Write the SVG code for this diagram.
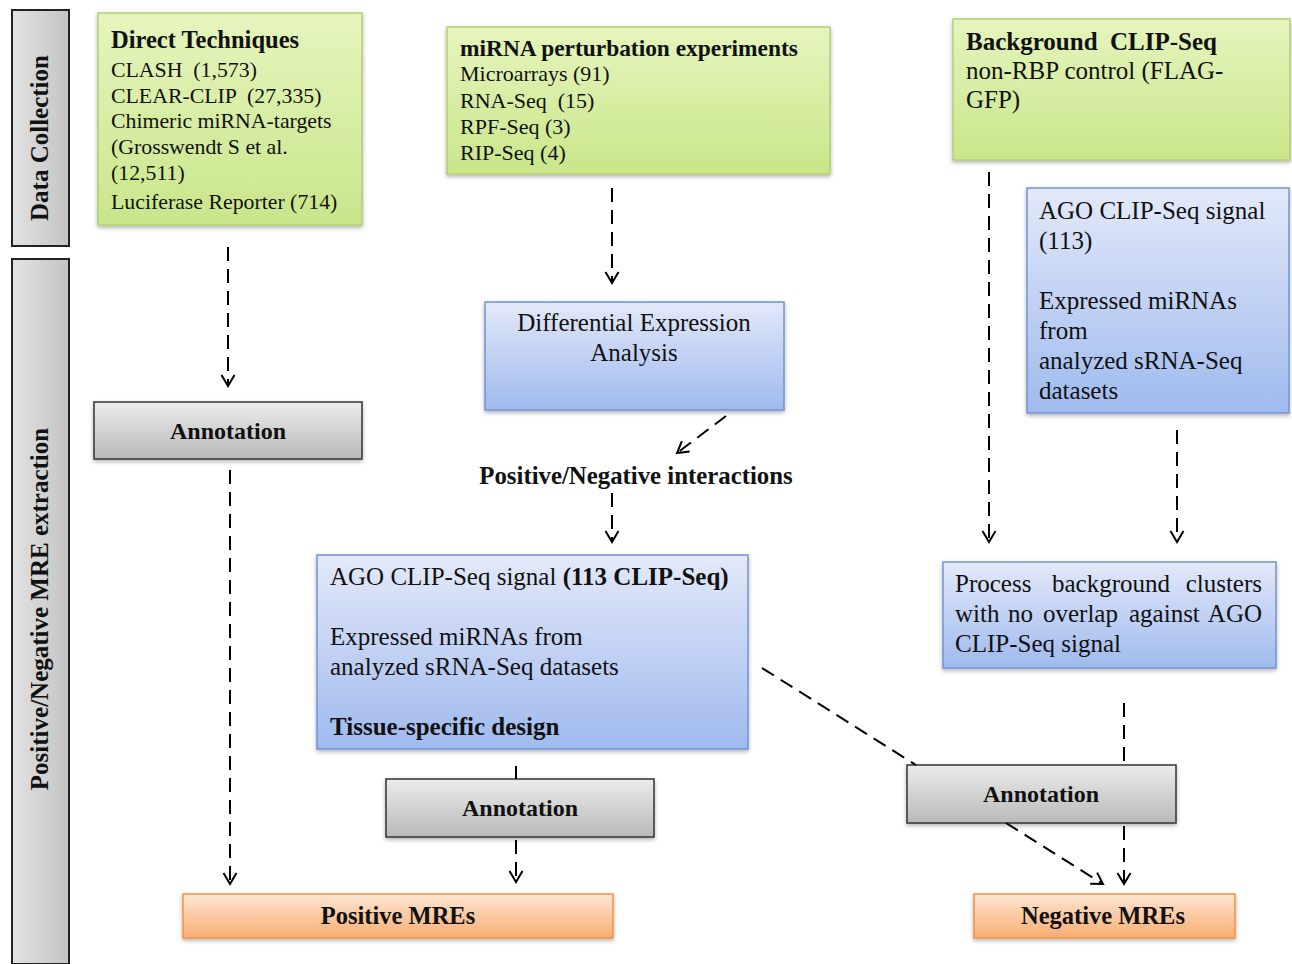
<svg xmlns="http://www.w3.org/2000/svg" width="1292" height="964" viewBox="0 0 1292 964">
<defs>
<linearGradient id="gGreen" x1="0" y1="0" x2="0" y2="1"><stop offset="0" stop-color="#e6f5be"/><stop offset="1" stop-color="#c9e68a"/></linearGradient>
<linearGradient id="gBlue" x1="0" y1="0" x2="0" y2="1"><stop offset="0" stop-color="#e3e9f9"/><stop offset="1" stop-color="#9fbaee"/></linearGradient>
<linearGradient id="gGrey" x1="0" y1="0" x2="0" y2="1"><stop offset="0" stop-color="#ececec"/><stop offset="1" stop-color="#b9b9b9"/></linearGradient>
<linearGradient id="gOrange" x1="0" y1="0" x2="0" y2="1"><stop offset="0" stop-color="#fde6d4"/><stop offset="1" stop-color="#f9ad72"/></linearGradient>
<linearGradient id="gSide" x1="0" y1="0" x2="1" y2="0"><stop offset="0" stop-color="#e2e2e2"/><stop offset="1" stop-color="#c4c4c4"/></linearGradient>
<filter id="sh" x="-5%" y="-5%" width="110%" height="120%"><feDropShadow dx="0" dy="2" stdDeviation="2" flood-color="#000" flood-opacity="0.3"/></filter>
<marker id="ah" markerWidth="16" markerHeight="16" refX="13" refY="8" orient="auto" markerUnits="userSpaceOnUse"><path d="M2,1.5 L13,8 L2,14.5" fill="none" stroke="#000" stroke-width="2"/></marker>
<style>
text{font-family:"Liberation Serif","Times New Roman",serif;fill:#111}
.b{font-weight:bold}
.t21{font-size:21.8px}
.t22{font-size:22px}
.t25{font-size:25px}
.ti{font-size:24.5px;font-weight:bold}
.an{font-size:24px;font-weight:bold}
.mre{font-size:24.5px;font-weight:bold}
.green{fill:url(#gGreen);stroke:#b2cf74;stroke-width:1.5;filter:url(#sh)}
.blue{fill:url(#gBlue);stroke:#7393d4;stroke-width:1.5;filter:url(#sh)}
.grey{fill:url(#gGrey);stroke:#333;stroke-width:1.5;filter:url(#sh)}
.orange{fill:url(#gOrange);stroke:#f39244;stroke-width:1.5;filter:url(#sh)}
.side{fill:url(#gSide);stroke:#222;stroke-width:2}
.c{fill:none;stroke:#000;stroke-width:2;stroke-dasharray:14,8}
.ca{fill:none;stroke:#000;stroke-width:2;stroke-dasharray:14,8;marker-end:url(#ah)}
.s{fill:none;stroke:#000;stroke-width:2}
</style>
</defs>
<rect width="1292" height="964" fill="#fff"/>

<g id="side-data">
<rect class="side" x="12" y="10" width="57" height="236"/>
<text class="ti" style="font-size:25px" transform="translate(48,138) rotate(-90)" text-anchor="middle">Data Collection</text>
</g>
<g id="side-extraction">
<rect class="side" x="12" y="259" width="57" height="705"/>
<text class="ti" style="font-size:25px" transform="translate(48,609) rotate(-90)" text-anchor="middle">Positive/Negative MRE extraction</text>
</g>

<g id="direct">
<rect class="green" x="98" y="13" width="264" height="212"/>
<text class="ti" x="111" y="48">Direct Techniques</text>
<text class="t21" x="111" y="77" xml:space="preserve">CLASH  (1,573)</text>
<text class="t21" x="111" y="103" xml:space="preserve">CLEAR-CLIP  (27,335)</text>
<text class="t21" x="111" y="128">Chimeric miRNA-targets</text>
<text class="t21" x="111" y="154">(Grosswendt S et al.</text>
<text class="t21" x="111" y="180">(12,511)</text>
<text class="t21" x="111" y="209">Luciferase Reporter (714)</text>
</g>

<g id="perturbation">
<rect class="green" x="447" y="27" width="383" height="147"/>
<text class="b" style="font-size:23.4px" x="460" y="56">miRNA perturbation experiments</text>
<text class="t22" x="460" y="81">Microarrays (91)</text>
<text class="t22" x="460" y="108" xml:space="preserve">RNA-Seq  (15)</text>
<text class="t22" x="460" y="134">RPF-Seq (3)</text>
<text class="t22" x="460" y="160">RIP-Seq (4)</text>
</g>

<g id="background">
<rect class="green" x="953" y="19" width="337" height="141"/>
<text class="b t25" x="966" y="50" xml:space="preserve">Background  CLIP-Seq</text>
<text class="t25" x="966" y="79">non-RBP control (FLAG-</text>
<text class="t25" x="966" y="108">GFP)</text>
</g>

<g id="ago-right">
<rect class="blue" x="1027" y="188" width="262" height="225"/>
<text class="t25" x="1039" y="219">AGO CLIP-Seq signal</text>
<text class="t25" x="1039" y="249">(113)</text>
<text class="t25" x="1039" y="309">Expressed miRNAs</text>
<text class="t25" x="1039" y="339">from</text>
<text class="t25" x="1039" y="369">analyzed sRNA-Seq</text>
<text class="t25" x="1039" y="399">datasets</text>
</g>

<g id="diffexp">
<rect class="blue" x="485" y="302" width="299" height="108"/>
<text class="t25" x="634" y="331" text-anchor="middle">Differential Expression</text>
<text class="t25" x="634" y="361" text-anchor="middle">Analysis</text>
</g>

<g id="posneg">
<text class="ti" style="font-size:24.8px" x="636" y="484" text-anchor="middle">Positive/Negative interactions</text>
</g>

<g id="ago-mid">
<rect class="blue" x="317" y="555" width="431" height="194"/>
<text class="t25" x="330" y="585">AGO CLIP-Seq signal <tspan class="b">(113 CLIP-Seq)</tspan></text>
<text class="t25" x="330" y="645">Expressed miRNAs from</text>
<text class="t25" x="330" y="675">analyzed sRNA-Seq datasets</text>
<text class="b t25" x="330" y="735">Tissue-specific design</text>
</g>

<g id="process">
<rect class="blue" x="943" y="562" width="333" height="106"/>
<text class="t25" y="592"><tspan x="955">Process</tspan> <tspan x="1052">background</tspan> <tspan x="1262" text-anchor="end">clusters</tspan></text>
<text class="t25" y="622"><tspan x="955">with</tspan> <tspan x="1008">no</tspan> <tspan x="1043">overlap</tspan> <tspan x="1129">against</tspan> <tspan x="1262" text-anchor="end">AGO</tspan></text>
<text class="t25" x="955" y="652">CLIP-Seq signal</text>
</g>

<g id="annot-left">
<rect class="grey" x="94" y="402" width="268" height="57"/>
<text class="an" x="228" y="439" text-anchor="middle">Annotation</text>
</g>
<g id="annot-mid">
<rect class="grey" x="386" y="779" width="268" height="58"/>
<text class="an" x="520" y="816" text-anchor="middle">Annotation</text>
</g>
<g id="annot-right">
<rect class="grey" x="907" y="765" width="269" height="58"/>
<text class="an" x="1041" y="802" text-anchor="middle">Annotation</text>
</g>

<g id="positive">
<rect class="orange" x="183" y="894" width="430" height="44"/>
<text class="mre" x="398" y="924" text-anchor="middle">Positive MREs</text>
</g>
<g id="negative">
<rect class="orange" x="974" y="894" width="261" height="44"/>
<text class="mre" x="1103" y="924" text-anchor="middle">Negative MREs</text>
</g>

<g id="connectors">
<path class="ca" d="M228,247 V386"/>
<path class="ca" d="M230,470 V884"/>
<path class="ca" d="M612,188 V283"/>
<path class="ca" d="M726,416 L677,453"/>
<path class="ca" d="M612,493 V542"/>
<path class="s" d="M516,766 V779"/>
<path class="ca" d="M516,840 V882"/>
<path class="ca" d="M989,172 V542"/>
<path class="ca" d="M1177,430 V542"/>
<path class="c" d="M762,668 L916,765"/>
<path class="ca" d="M1006,823 L1103,884"/>
<path class="c" d="M1124,703 V765"/>
<path class="ca" d="M1124,826 V884"/>
</g>
</svg>
